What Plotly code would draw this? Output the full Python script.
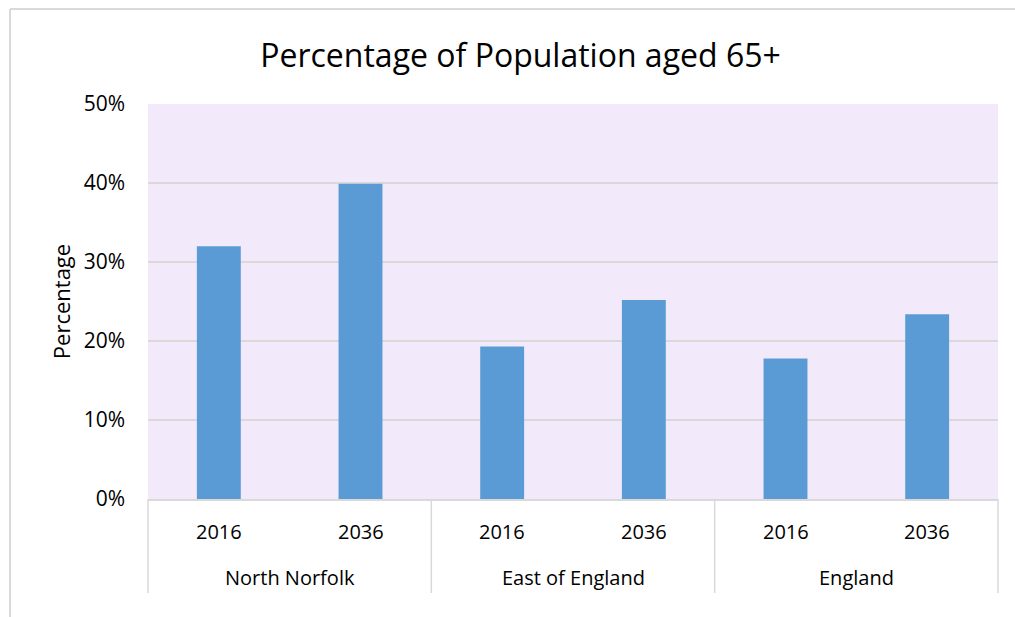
import plotly.graph_objects as go

regions = ["North Norfolk", "North Norfolk", "East of England", "East of England", "England", "England"]
years = ["2016", "2036", "2016", "2036", "2016", "2036"]
values = [32.0, 39.9, 19.3, 25.2, 17.8, 23.4]
groups = ["North Norfolk", "East of England", "England"]

W, H = 1015, 617
L, R, T, B = 148, 998, 104, 499
pw, ph = R - L, B - T

def px(x):
    return (x - L) / pw

def py(y):
    return (B - y) / ph

FONT = "Open Sans, sans-serif"
GRID = "#D9D9D9"

fig = go.Figure()
fig.add_trace(go.Bar(
    x=[regions, years], y=values,
    marker=dict(color="#5B9BD5", line=dict(width=0)),
    width=0.31,
))

fig.update_layout(
    width=W, height=H,
    margin=dict(l=L, r=W - R, t=T, b=H - B),
    paper_bgcolor="white",
    plot_bgcolor="#F2EAFB",
    showlegend=False,
    font=dict(family=FONT, color="#000000", size=20),
    title=dict(text="Percentage of Population aged 65+", x=(258 + 783) / 2 / W, xanchor="center",
               y=1 - 56 / H, yanchor="middle",
               font=dict(family=FONT, size=32, color="#000000")),
)
fig.update_yaxes(range=[0, 50], dtick=10, ticksuffix="%", showgrid=True,
                 gridcolor=GRID, gridwidth=1.5, zeroline=False,
                 showline=False, ticks="", ticklabelstandoff=22,
                 title=dict(text="Percentage", font=dict(size=22), standoff=6),
                 tickfont=dict(size=21))
fig.update_xaxes(showline=True, linecolor=GRID, linewidth=1.5,
                 showdividers=False, showticklabels=False,
                 ticks="", showgrid=False)

# category labels (years) and group labels
n = len(years)
for i, yr in enumerate(years):
    fig.add_annotation(x=(i + 0.5) / n, y=py(531), xref="paper", yref="paper",
                       text=yr, showarrow=False, xanchor="center", yanchor="middle",
                       font=dict(size=20))
ng = len(groups)
for j, g in enumerate(groups):
    fig.add_annotation(x=(j + 0.5) / ng, y=py(577), xref="paper", yref="paper",
                       text=g, showarrow=False, xanchor="center", yanchor="middle",
                       font=dict(size=20))
for j in range(ng + 1):
    fig.add_shape(type="line", xref="paper", yref="paper",
                  x0=j / ng, x1=j / ng, y0=0, y1=py(593),
                  line=dict(color=GRID, width=1.5))

# outer chart border (left and top edges visible)
fig.add_shape(type="line", xref="paper", yref="paper",
              x0=px(10), x1=px(10), y0=py(9), y1=py(620),
              line=dict(color=GRID, width=2))
fig.add_shape(type="line", xref="paper", yref="paper",
              x0=px(10), x1=px(1020), y0=py(9), y1=py(9),
              line=dict(color=GRID, width=2))

fig.write_html("out.html")
